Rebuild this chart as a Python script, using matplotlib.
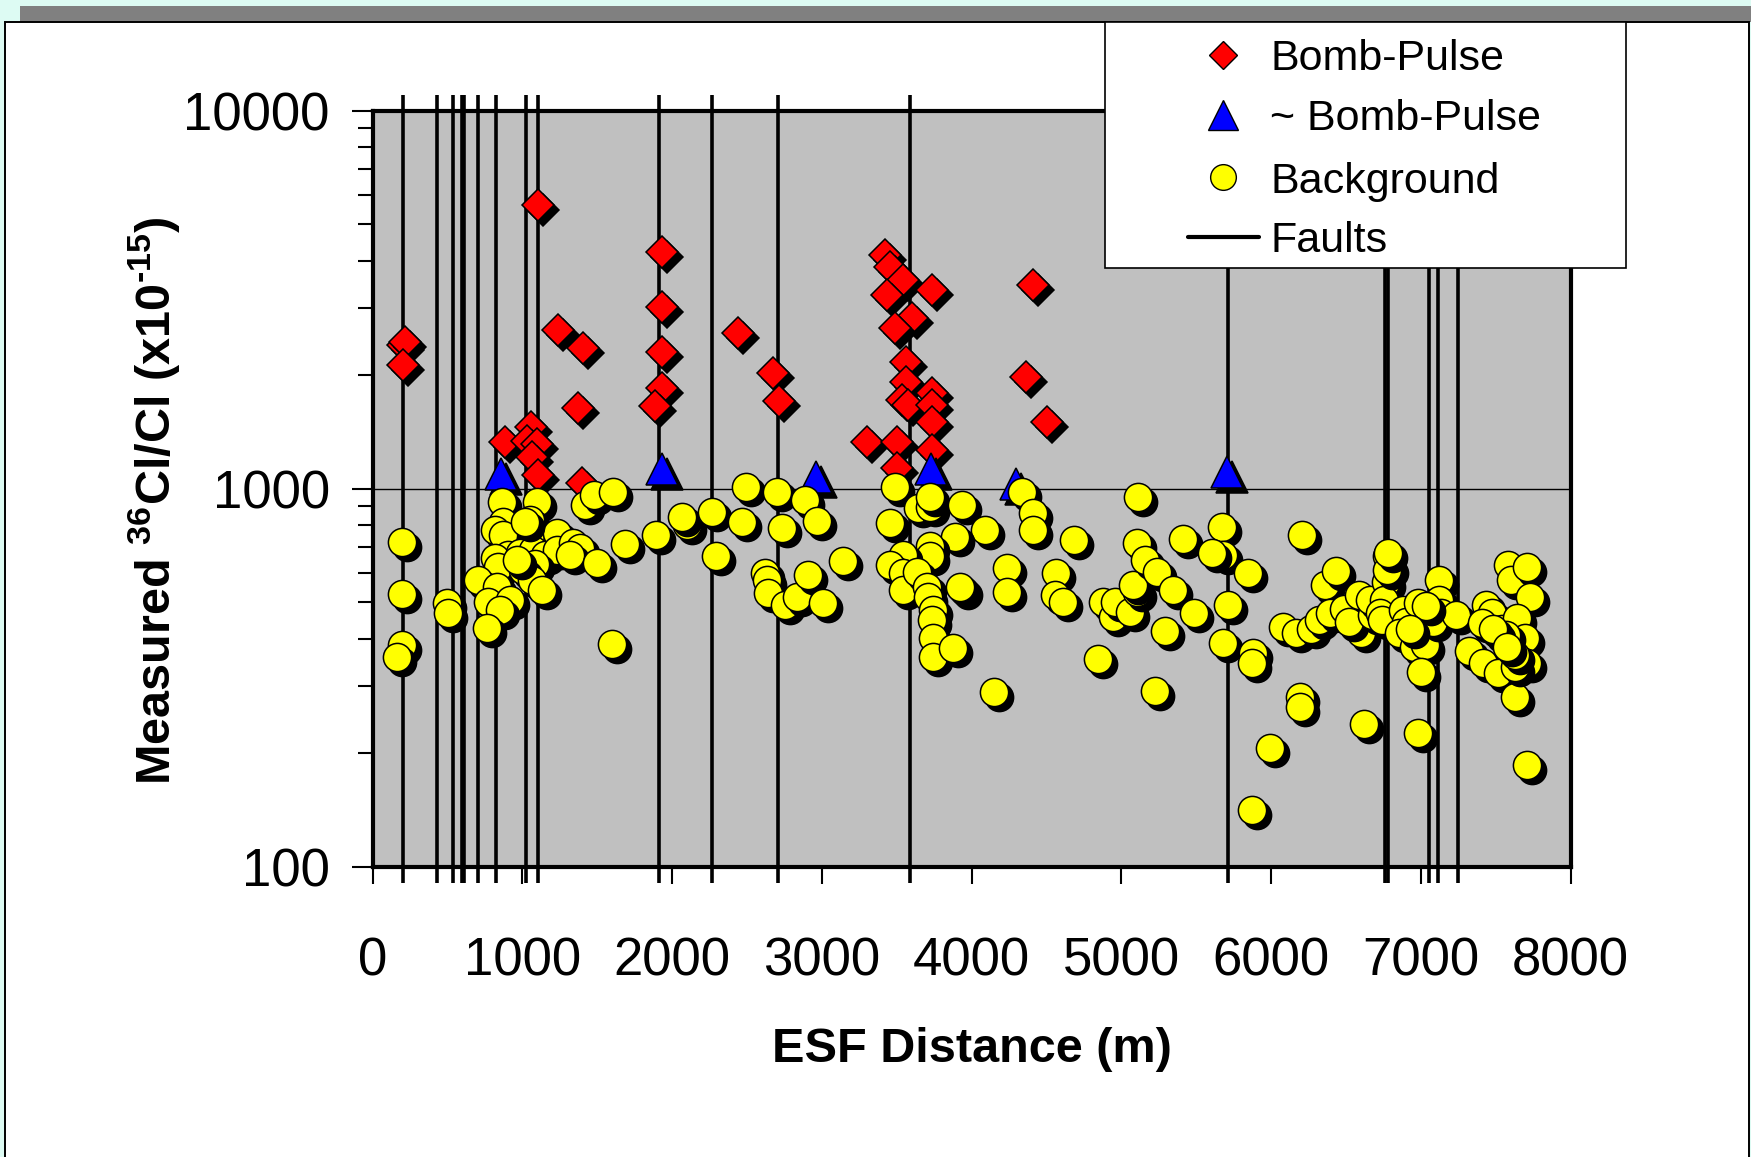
import numpy as np
import matplotlib
matplotlib.use("Agg")
import matplotlib.pyplot as plt
import matplotlib.transforms as mtransforms
from matplotlib.patches import Rectangle
from matplotlib.ticker import LogLocator, NullFormatter, NullLocator, FixedLocator, FixedFormatter

plt.rcParams['font.family'] = ['Liberation Sans', 'DejaVu Sans']
plt.rcParams['mathtext.fontset'] = 'custom'
plt.rcParams['mathtext.rm'] = 'Liberation Sans:bold'
plt.rcParams['mathtext.bf'] = 'Liberation Sans:bold'
plt.rcParams['mathtext.it'] = 'Liberation Sans:bold:italic'
plt.rcParams['mathtext.default'] = 'bf'

# ---------------- data ----------------
fault_x = [200, 427, 534, 594, 612, 703, 821, 1024, 1102, 1914, 2264, 2705, 3588,
           5714, 6760, 6783, 7052, 7113, 7250]

bomb_x = [204, 216, 204, 1102, 1240, 1407, 1369, 883, 1057, 1028, 1095, 1062, 1102, 1395,
          1934, 1934, 1934, 1934, 1885, 2437, 2671, 2715,
          3421, 3455, 3543, 3437, 3733, 3599, 3488, 3559, 3559, 3733, 3532, 3577, 3733,
          3733, 3299, 3499, 3733, 3499, 4411, 4360, 4501]
bomb_y = [2400, 2450, 2125, 5630, 2630, 2352, 1632, 1331, 1459, 1340, 1315, 1215, 1087, 1035,
          4236, 3030, 2303, 1844, 1650, 2577, 2027, 1706,
          4153, 3866, 3566, 3255, 3355, 2824, 2656, 2168, 1919, 1788, 1716, 1665, 1665,
          1504, 1331, 1331, 1266, 1132, 3457, 1978, 1504]

approx_x = [855, 1934, 2958, 3731, 4296, 5703]
approx_y = [1096, 1128, 1077, 1128, 1029, 1105]

bg_x = [194, 194, 194, 160, 494, 505,
        861, 1095, 872, 817, 1050, 1050, 872, 905, 817, 839, 984, 1072, 1151, 1229,
        1229, 1340, 1384, 1318, 1496, 1084, 1006, 1062, 1128, 705, 828, 772, 917, 850,
        761, 1420, 1480, 1603, 1685, 1596, 962, 1017,
        1892, 2097, 2063, 2264, 2292, 2493, 2464, 2698, 2735, 2887, 2965, 3143, 2620,
        2631, 2642, 2753, 2831, 2909, 3009,
        3488, 3455, 3643, 3722, 3722, 3933, 4089, 3889, 3722, 3722, 3543, 3455, 3543,
        3543, 3633, 3699, 3710, 3744, 3733, 3744, 3744, 3873, 3944, 3922, 4151, 4238,
        4238, 4334, 4411, 4411, 4563, 4556,
        4612, 4683, 4841, 4879, 4946, 4957, 5057, 5102, 5079, 5102, 5157, 5236, 5113,
        5224, 5291, 5346, 5409, 5487, 5670, 5680, 5603, 5714, 5680, 5847, 5881, 5870,
        5992, 5870, 6076, 6165, 6204, 6190, 6190,
        6267, 6318, 6357, 6433, 6395, 6484, 6586, 6598, 6521, 6674, 6661, 6776, 6789,
        6764, 6751, 6725, 6738, 6618,
        6771, 6779, 6878, 6903, 6853, 6954, 7025, 7000, 6980, 7120, 7120, 7133, 7082,
        7235, 7035, 6983, 6927,
        7324, 7413, 7437, 7474, 7539, 7514, 7628, 7578, 7603, 7705, 7731, 7641, 7692,
        7705, 7630, 7565, 7500, 7410, 7630, 7705, 7484, 7573]
bg_y = [724, 527, 386, 358, 498, 468,
        924, 924, 818, 778, 827, 754, 754, 668, 655, 622, 676, 689, 668, 762,
        689, 717, 695, 668, 635, 631, 610, 573, 540, 573, 550, 502, 508, 478,
        427, 905, 960, 982, 713, 388, 648, 818,
        754, 801, 843, 869, 663, 1012, 818, 982, 788, 934, 822, 642, 597,
        573, 529, 492, 518, 591, 498,
        1012, 810, 887, 896, 953, 905, 778, 746, 705, 663, 668, 628, 597,
        540, 602, 550, 518, 478, 449, 402, 359, 378, 540, 550, 290, 616,
        534, 982, 864, 778, 597, 523,
        502, 732, 354, 502, 459, 502, 473, 534, 556, 717, 648, 602, 949,
        292, 421, 540, 736, 468, 793, 668, 677, 492, 391, 597, 367, 345,
        206, 141, 431, 414, 754, 282, 265,
        426, 449, 556, 605, 468, 482, 523, 414, 445, 463, 509, 663, 616,
        567, 509, 468, 449, 239,
        609, 675, 478, 445, 414, 382, 386, 328, 498, 573, 509, 468, 445,
        463, 490, 226, 426,
        372, 345, 492, 468, 426, 326, 282, 628, 573, 622, 518, 454, 402,
        345, 337, 409, 414, 440, 363, 186, 426, 382]

x_ticks = [0, 1000, 2000, 3000, 4000, 5000, 6000, 7000, 8000]
x_tick_labels = ['0', '1000', '2000', '3000', '4000', '5000', '6000', '7000', '8000']
y_ticks = [100, 1000, 10000]
y_tick_labels = ['100', '1000', '10000']
legend_labels = ['Bomb-Pulse', '~ Bomb-Pulse', 'Background', 'Faults']

# ---------------- figure ----------------
W, H = 1751, 1157
fig = plt.figure(figsize=(W / 100, H / 100), dpi=100)
fig.patch.set_facecolor('#DDFBF3')

# background decoration (pixel coordinates)
bg = fig.add_axes([0, 0, 1, 1], zorder=-10)
bg.set_xlim(0, W); bg.set_ylim(H, 0); bg.axis('off')
bg.add_patch(Rectangle((20, 6), W - 20, 16, facecolor='#808080', edgecolor='none'))
bg.add_patch(Rectangle((5, 22), 1744, H + 10, facecolor='white', edgecolor='black', lw=1.4))

# main axes
L, R, T, B = 372.7, 1570.7, 110.7, 866.7
ax = fig.add_axes([L / W, 1 - B / H, (R - L) / W, (B - T) / H])
ax.set_facecolor('#C0C0C0')
ax.set_xlim(0, 8000)
ax.set_yscale('log')
ax.set_ylim(100, 10000)

ax.xaxis.set_major_locator(FixedLocator(x_ticks))
ax.xaxis.set_major_formatter(FixedFormatter(x_tick_labels))
ax.xaxis.set_minor_locator(NullLocator())
ax.yaxis.set_major_locator(FixedLocator(y_ticks))
ax.yaxis.set_major_formatter(FixedFormatter(y_tick_labels))
ax.yaxis.set_minor_locator(LogLocator(base=10, subs=np.arange(2, 10)))
ax.yaxis.set_minor_formatter(NullFormatter())

ax.tick_params(axis='y', which='major', direction='out', length=15, width=1.5,
               pad=16, labelsize=38, color='black')
ax.tick_params(axis='y', which='minor', direction='out', length=11, width=1.5, color='black')
ax.tick_params(axis='x', which='major', direction='out', length=12, width=1.5,
               pad=38, labelsize=38, color='black')
for s in ax.spines.values():
    s.set_linewidth(3)
    s.set_color('black')

ax.set_axisbelow(True)
ax.grid(axis='y', which='major', color='black', lw=1.0)

# faults
ax.vlines(fault_x, -0.021, 1.021, transform=ax.get_xaxis_transform(),
          colors='black', lw=2.6, clip_on=False, zorder=2)

# markers with shadow
shadow = ax.transData + mtransforms.ScaledTranslation(5 / 100, -5 / 100, fig.dpi_scale_trans)

def draw_series(xs, ys, marker, color, ms, mew):
    for xv, yv in zip(xs, ys):
        ax.plot([xv], [yv], linestyle='none', marker=marker, ms=ms, mfc='black',
                mec='black', mew=mew, transform=shadow, zorder=3)
        ax.plot([xv], [yv], linestyle='none', marker=marker, ms=ms, mfc=color,
                mec='black', mew=mew, zorder=3)

draw_series(bomb_x, bomb_y, 'D', '#FF0000', 16.2, 1.1)
draw_series(approx_x, approx_y, '^', '#0000FF', 23, 1.1)
draw_series(bg_x, bg_y, 'o', '#FFFF00', 20.3, 1.1)

# axis labels
ax.set_xlabel('ESF Distance (m)', fontsize=35, fontweight='bold')
ax.xaxis.set_label_coords(0.5, (B - 1027) / (B - T), transform=ax.transAxes)
ax.xaxis.label.set_va('top')
fig.text(170 / W, 1 - 501 / H, 'Measured $^{36}$Cl/Cl (x10$^{\u2010 15}$)', rotation=90,
         ha='center', va='baseline', rotation_mode='anchor', fontsize=35, fontweight='bold')

# legend (drawn in pixel coordinates)
lg = fig.add_axes([0, 0, 1, 1], zorder=10)
lg.set_xlim(0, W); lg.set_ylim(H, 0); lg.axis('off')
lg.patch.set_alpha(0)
lg.add_patch(Rectangle((1105, 22), 521, 246, facecolor='white', edgecolor='black', lw=1.2))
rows = [55, 115, 177, 237]
hx = 1223
lg.plot([hx], [rows[0]], marker='D', ms=14.3, mfc='#FF0000', mec='black', mew=1.0, ls='none')
lg.plot([hx], [rows[1]], marker='^', ms=21, mfc='#0000FF', mec='black', mew=1.0, ls='none')
lg.plot([hx], [rows[2]], marker='o', ms=18.5, mfc='#FFFF00', mec='black', mew=1.0, ls='none')
lg.plot([1188, 1259], [rows[3], rows[3]], color='black', lw=3, solid_capstyle='round')
for r, lab in zip(rows, legend_labels):
    lg.text(1270, r + 15.5, lab, fontsize=31, ha='left', va='baseline')

fig.savefig('out.png', dpi=100, facecolor=fig.get_facecolor())
